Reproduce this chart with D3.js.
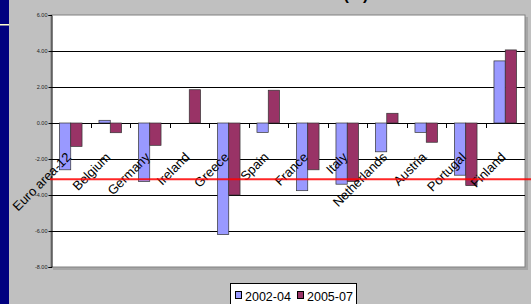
<!DOCTYPE html>
<html>
<head>
<meta charset="utf-8">
<script src="https://cdn.jsdelivr.net/npm/d3@7"></script>
<style>
  body { margin: 0; background: #c0c0c0; }
  svg { display: block; font-family: Arial, "Liberation Sans", sans-serif; }
</style>
</head>
<body>
<svg id="chart" width="531" height="304"></svg>
<script>
// chart data
const countries = ['Euro area-12', 'Belgium', 'Germany', 'Ireland', 'Greece', 'Spain',
  'France', 'Italy', 'Netherlands', 'Austria', 'Portugal', 'Finland'];
const seriesNames = ['2002-04', '2005-07'];
const values0204 = [-2.6, 0.15, -3.25, 0.0, -6.2, -0.52, -3.76, -3.4, -1.6, -0.52, -2.9, 3.45];
const values0507 = [-1.3, -0.54, -1.24, 1.85, -4.0, 1.82, -2.6, -3.25, 0.54, -1.07, -3.48, 4.06];
const yTicks = [-8, -6, -4, -2, 0, 2, 4, 6];
const refLine = -3.12; // red line across the chart

const colors = ['#9999ff', '#993366'];

const svg = d3.select('#chart');
const plot = { left: 51, right: 525, top: 15, bottom: 267 };

// navy strip on the left edge of the slide
svg.append('rect').attr('x', 0).attr('y', 0).attr('width', 9).attr('height', 304).attr('fill', '#000080');
svg.append('rect').attr('x', 0).attr('y', 24).attr('width', 9).attr('height', 1.5).attr('fill', '#ffffcc');

// title is cut off at the top, only the tails show
svg.append('text')
  .attr('x', 356).attr('y', 0)
  .attr('text-anchor', 'middle')
  .attr('font-size', 16).attr('font-weight', 'bold')
  .text('(%)');

const y = d3.scaleLinear().domain([-8, 6]).range([plot.bottom, plot.top]);
const x0 = d3.scaleBand().domain(countries).range([plot.left, plot.right]);
const x1 = d3.scaleBand().domain(seriesNames).range([0, x0.bandwidth()]).paddingOuter(0.75);

// plot area with shadow
svg.append('rect')
  .attr('x', plot.left + 2).attr('y', plot.top + 2)
  .attr('width', plot.right - plot.left + 1).attr('height', plot.bottom - plot.top + 1)
  .attr('fill', '#a6a6a6');
svg.append('rect')
  .attr('x', plot.left).attr('y', plot.top)
  .attr('width', plot.right - plot.left).attr('height', plot.bottom - plot.top)
  .attr('fill', '#fff').attr('stroke', '#808080');

// gridlines
svg.append('g')
  .selectAll('line')
  .data(yTicks.filter(d => d > -8 && d < 6))
  .join('line')
  .attr('x1', plot.left).attr('x2', plot.right)
  .attr('y1', d => Math.round(y(d)) + 0.5).attr('y2', d => Math.round(y(d)) + 0.5)
  .attr('stroke', '#000');

// y axis
const yAxis = svg.append('g')
  .attr('transform', `translate(${plot.left + 0.5},0)`)
  .call(d3.axisLeft(y).tickValues(yTicks).tickSize(3).tickPadding(1).tickFormat(d => d.toFixed(2)));
yAxis.select('.domain').attr('stroke', '#000');
yAxis.selectAll('text').attr('font-size', 5.5).attr('font-family', 'Arial, "Liberation Sans", sans-serif').attr('fill', '#222');

// category tick marks on the zero line
svg.append('g')
  .selectAll('line')
  .data(countries.slice(1))
  .join('line')
  .attr('x1', d => Math.round(x0(d)) + 0.5).attr('x2', d => Math.round(x0(d)) + 0.5)
  .attr('y1', y(0)).attr('y2', y(0) + 5)
  .attr('stroke', '#000');

// bars
const seriesValues = [values0204, values0507];
seriesNames.forEach((name, si) => {
  svg.append('g')
    .selectAll('rect')
    .data(countries.map((c, i) => ({ c, v: seriesValues[si][i] })))
    .join('rect')
    .attr('x', d => x0(d.c) + x1(name))
    .attr('width', x1.bandwidth())
    .attr('y', d => y(Math.max(0, d.v)))
    .attr('height', d => Math.abs(y(d.v) - y(0)))
    .attr('fill', colors[si])
    .attr('stroke', '#333')
    .attr('stroke-width', 0.7);
});

// rotated country labels
svg.append('g')
  .selectAll('text')
  .data(countries)
  .join('text')
  .attr('transform', d => `translate(${x0(d) + x0.bandwidth() / 2 + 1},158) rotate(-45)`)
  .attr('text-anchor', 'end')
  .attr('font-size', 13)
  .attr('fill', '#000')
  .text(d => d);

// red reference line
svg.append('line')
  .attr('x1', 50).attr('x2', 531)
  .attr('y1', y(refLine)).attr('y2', y(refLine))
  .attr('stroke', '#ff0000').attr('stroke-opacity', 0.85).attr('stroke-width', 2);

// legend
const legend = svg.append('g');
legend.append('rect')
  .attr('x', 230.5).attr('y', 283.5).attr('width', 126).attr('height', 30)
  .attr('fill', '#fff').attr('stroke', '#000');
const legendX = [235, 297];
seriesNames.forEach((name, i) => {
  legend.append('rect')
    .attr('x', legendX[i] + 0.5).attr('y', 291.5).attr('width', 6).attr('height', 7)
    .attr('fill', colors[i]).attr('stroke', '#000');
  legend.append('text')
    .attr('x', legendX[i] + 10).attr('y', 301)
    .attr('font-size', 12.5)
    .text(name);
});
</script>
</body>
</html>
